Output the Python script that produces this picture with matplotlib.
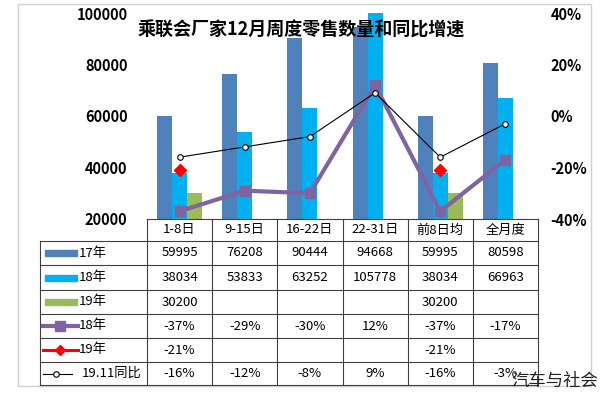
import matplotlib
matplotlib.use('Agg')
import matplotlib.pyplot as plt
from matplotlib.patches import Rectangle
import numpy as np

plt.rcParams['font.family'] = ['Noto Sans CJK SC', 'DejaVu Sans']

cats = ['1-8日', '9-15日', '16-22日', '22-31日', '前8日均', '全月度']
v17 = [59995, 76208, 90444, 94668, 59995, 80598]
v18 = [38034, 53833, 63252, 105778, 38034, 66963]
v19 = [30200, None, None, None, 30200, None]
g18 = [-37, -29, -30, 12, -37, -17]
g19 = [-21, None, None, None, -21, None]
g1911 = [-16, -12, -8, 9, -16, -3]

c17 = '#4F81BD'
c18 = '#00B0F0'
c19 = '#9BBB59'
cpur = '#8064A2'
cred = '#FF0000'

W, H = 608, 395
fig = plt.figure(figsize=(W / 100, H / 100), dpi=100)

def fx(x):
    return x / W

def fy(y):
    return 1 - y / H

# plot area in pixels
px0, px1 = 147, 538
py0, py1 = 13, 219

ax = fig.add_axes([fx(px0), fy(py1), fx(px1 - px0), (py1 - py0) / H])
x = np.arange(len(cats))
bw = 0.23
ax.bar(x - bw, v17, bw, color=c17, zorder=2)
ax.bar(x, v18, bw, color=c18, zorder=2)
x19 = [i for i, v in enumerate(v19) if v is not None]
ax.bar(np.array(x19) + bw, [v19[i] for i in x19], bw, color=c19, zorder=2)
ax.set_xlim(-0.5, len(cats) - 0.5)
ax.set_ylim(20000, 100000)
ax.set_yticks([20000, 40000, 60000, 80000, 100000])
ax.set_xticks([])
ax.tick_params(axis='y', length=0, pad=14)
for lab in ax.get_yticklabels():
    lab.set_fontweight('bold')
    lab.set_fontsize(10.5)
for s in ax.spines.values():
    s.set_visible(False)

ax2 = ax.twinx()
ax2.plot(x, g18, color=cpur, lw=3, marker='s', ms=6.5, zorder=3)
ax2.plot(x, g1911, color='black', lw=0.8, marker='o', ms=4,
         mfc='white', mec='black', mew=0.8, zorder=4)
x19g = [i for i, v in enumerate(g19) if v is not None]
ax2.plot(x19g, [g19[i] for i in x19g], ls='none', marker='D', ms=6,
         color=cred, zorder=5)
ax2.set_ylim(-40, 40)
ax2.set_yticks([-40, -20, 0, 20, 40])
ax2.set_yticklabels([f'{t}%' for t in [-40, -20, 0, 20, 40]])
ax2.tick_params(axis='y', length=0, pad=9)
for lab in ax2.get_yticklabels():
    lab.set_fontweight('bold')
    lab.set_fontsize(10.5)
for s in ax2.spines.values():
    s.set_visible(False)

# overlay for table and frame
ov = fig.add_axes([0, 0, 1, 1])
ov.set_xlim(0, W)
ov.set_ylim(H, 0)
ov.axis('off')
ov.patch.set_alpha(0)

ov.add_patch(Rectangle((18, 4), 591 - 18, 386 - 4, fill=False,
                       edgecolor='#d0d0d0', lw=1))

col_edges = np.linspace(px0, px1, len(cats) + 1)
row_edges = [219, 241, 265, 290, 314, 338, 362, 385]
lc = '#404040'
lw = 0.8
# horizontal lines
ov.plot([px0, px1], [row_edges[0], row_edges[0]], color=lc, lw=lw)
for yy in row_edges[1:]:
    ov.plot([40, px1], [yy, yy], color=lc, lw=lw)
# vertical lines
for xx in col_edges:
    ov.plot([xx, xx], [row_edges[0], row_edges[-1]], color=lc, lw=lw)
ov.plot([40, 40], [row_edges[1], row_edges[-1]], color=lc, lw=lw)

fs = 9.5
mids = (col_edges[:-1] + col_edges[1:]) / 2
ymid = [(row_edges[i] + row_edges[i + 1]) / 2 for i in range(len(row_edges) - 1)]
for i, c in enumerate(cats):
    ov.text(mids[i], ymid[0], c, ha='center', va='center', fontsize=fs)

rows = [
    ([str(v) for v in v17]),
    ([str(v) for v in v18]),
    (['' if v is None else str(v) for v in v19]),
    ([f'{v}%' for v in g18]),
    (['' if v is None else f'{v}%' for v in g19]),
    ([f'{v}%' for v in g1911]),
]
for r, vals in enumerate(rows):
    for i, t in enumerate(vals):
        ov.text(mids[i], ymid[r + 1], t, ha='center', va='center', fontsize=fs)

# legend keys in first column
labels = ['17年', '18年', '19年', '18年', '19年', '19.11同比']
for r in range(3):
    yy = ymid[r + 1]
    ov.add_patch(Rectangle((45, yy - 3), 32, 6, color=[c17, c18, c19][r]))
ov.plot([43, 78], [ymid[4], ymid[4]], color=cpur, lw=3)
ov.plot([60], [ymid[4]], marker='s', ms=6.5, color=cpur)
ov.plot([43, 78], [ymid[5], ymid[5]], color=cred, lw=2.2)
ov.plot([60], [ymid[5]], marker='D', ms=5, color=cred)
ov.plot([43, 72], [ymid[6], ymid[6]], color='black', lw=0.8)
ov.plot([56], [ymid[6]], marker='o', ms=4, mfc='white', mec='black', mew=0.8)
for r, lab in enumerate(labels):
    xl = 82 if r == 5 else 79
    ov.text(xl, ymid[r + 1], lab, ha='left', va='center', fontsize=fs)

fig.text(fx(301), fy(30), '乘联会厂家12月周度零售数量和同比增速',
         ha='center', va='center', fontsize=13, fontweight='bold')
fig.text(fx(555), fy(381), '汽车与社会', ha='center', va='center',
         fontsize=12.5, color='#222222')

fig.savefig('out.png', dpi=100)
